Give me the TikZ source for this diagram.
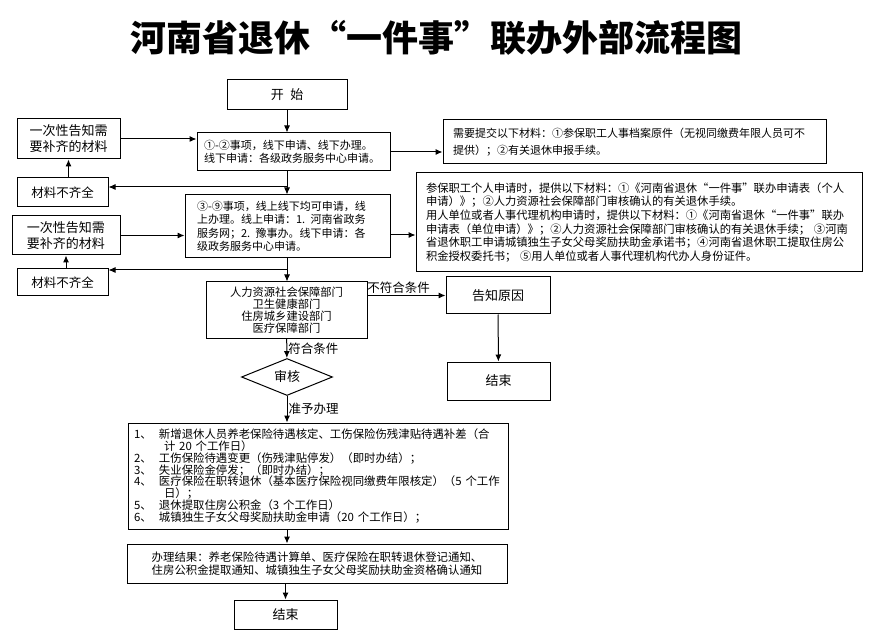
\documentclass[tikz,border=0pt]{standalone}
\usepackage{fontspec}
\setmainfont{Noto Sans CJK SC}
\usetikzlibrary{arrows}
\usetikzlibrary{arrows.meta}
\usetikzlibrary{shapes}
\usetikzlibrary{shapes.geometric}

\begin{document}
\begin{tikzpicture}[>={Latex[length=7pt,width=6pt]}, x=1pt, y=-1pt, line width=1pt,
    box/.style={draw, align=center, inner sep=2pt, font=\fontsize{13pt}{16pt}\selectfont},
    note/.style={draw, align=left, inner ysep=2pt, font=\fontsize{11pt}{13.5pt}\selectfont},
    lbl/.style={inner sep=1pt, font=\fontsize{12.5pt}{14pt}\selectfont}]
      \path[use as bounding box] (0,0) rectangle (870,636);

      % title
      \node[font=\fontsize{36pt}{40pt}\selectfont\bfseries] (title) at (436,38) {河南省退休“一件事”联办外部流程图};

      % left column
      \node[box, minimum width=120pt, minimum height=30pt] (start) at (287,95) {开\hspace{0.5em}始};
      \node[note, inner xsep=7pt, text width=179pt, minimum height=38pt] (step12) at (293.5,152)
        {①-②事项，线下申请、线下办理。\\线下申请：各级政务服务中心申请。};
      \node[note, inner xsep=12pt, text width=181pt, minimum height=63pt] (step39) at (287.5,226.5)
        {③-⑨事项，线上线下均可申请，线\\上办理。线上申请：1. 河南省政务\\服务网；2. 豫事办。线下申请：各\\级政务服务中心申请。};

      \node[box, minimum width=103pt, minimum height=40pt] (tell1) at (68.5,139) {一次性告知需\\要补齐的材料};
      \node[box, font=\fontsize{12.5pt}{15pt}\selectfont, minimum width=91pt, minimum height=29pt] (nq1) at (62.5,192.5) {材料不齐全};
      \node[box, minimum width=108pt, minimum height=39pt] (tell2) at (66,235.5) {一次性告知需\\要补齐的材料};
      \node[box, font=\fontsize{12.5pt}{15pt}\selectfont, minimum width=91pt, minimum height=27pt] (nq2) at (62.5,282.5) {材料不齐全};

      % materials
      \node[note, inner xsep=10pt, text width=363pt, minimum height=44pt, font=\fontsize{11pt}{17pt}\selectfont] (docs1) at (634.5,142)
        {需要提交以下材料：①参保职工人事档案原件（无视同缴费年限人员可不\\提供）；②有关退休申报手续。};
      \node[note, inner xsep=10pt, text width=426pt, minimum height=99pt, font=\fontsize{11.3pt}{13.7pt}\selectfont] (docs2) at (639,222.5)
        {参保职工个人申请时，提供以下材料：①《河南省退休“一件事”联办申请表（个人\\
         申请）》；②人力资源社会保障部门审核确认的有关退休手续。\\
         用人单位或者人事代理机构申请时，提供以下材料：①《河南省退休“一件事”联办\\
         申请表（单位申请）》；②人力资源社会保障部门审核确认的有关退休手续； ③河南\\
         省退休职工申请城镇独生子女父母奖励扶助金承诺书；④河南省退休职工提取住房公\\
         积金授权委托书； ⑤用人单位或者人事代理机构代办人身份证件。};

      % departments and check
      \node[box, font=\fontsize{11.3pt}{11.8pt}\selectfont, minimum width=161pt, minimum height=56pt] (dept) at (286.5,310)
        {人力资源社会保障部门\\卫生健康部门\\住房城乡建设部门\\医疗保障部门};
      \node[box, minimum width=104pt, minimum height=37pt] (why) at (498,295.5) {告知原因};
      \node[box, minimum width=103pt, minimum height=38pt] (end1) at (498.5,381) {结束};
      \node[draw, diamond, aspect=2.46, minimum width=91pt, minimum height=37pt, inner sep=0pt,
        font=\fontsize{13pt}{15pt}\selectfont] (review) at (287,377) {审核};

      % items and result
      \node[note, inner xsep=6pt, text width=368pt, minimum height=106pt, font=\fontsize{11.4pt}{11.8pt}\selectfont] (items) at (318,476)
        {\makebox[25pt][l]{1、}新增退休人员养老保险待遇核定、工伤保险伤残津贴待遇补差（合\\
         \hspace*{30pt}计 20 个工作日）\\
         \makebox[25pt][l]{2、}工伤保险待遇变更（伤残津贴停发）（即时办结）；\\
         \makebox[25pt][l]{3、}失业保险金停发；（即时办结）；\\
         \makebox[25pt][l]{4、}医疗保险在职转退休（基本医疗保险视同缴费年限核定）（5~个工作\\
         \hspace*{30pt}日）；\\
         \makebox[25pt][l]{5、}退休提取住房公积金（3 个工作日）\\
         \makebox[25pt][l]{6、}城镇独生子女父母奖励扶助金申请（20 个工作日）；};
      \node[box, font=\fontsize{11.4pt}{12.5pt}\selectfont, minimum width=380pt, minimum height=39pt] (result) at (317,563.5)
        {办理结果：养老保险待遇计算单、医疗保险在职转退休登记通知、\\住房公积金提取通知、城镇独生子女父母奖励扶助金资格确认通知};
      \node[box, minimum width=103pt, minimum height=29pt] (end2) at (285.5,614.5) {结束};

      % arrows
      \coordinate (j1) at (287,187);
      \coordinate (j2) at (287,270);
      \draw[->] (start) -- (start |- step12.north);
      \draw[->] (step12.south -| start) -- (step39.north -| start);
      \draw[->] (j1) -- (j1 -| nq1.east);
      \draw[->] (tell1.south |- nq1.north) -- (tell1.south);
      \draw[->] (tell1.east) -- (tell1.east -| step12.west);
      \draw[->] (step12.east) -- (step12.east -| docs1.west);

      \draw[->] (step39.south -| start) -- (dept.north -| start);
      \draw[->] (j2) -- (j2 -| nq2.east);
      \draw[->] (tell2.south |- nq2.north) -- (tell2.south);
      \draw[->] (tell2.east) -- (tell2.east -| step39.west);
      \draw[->] ([yshift=-8.5pt]step39.east) -- ([yshift=-8.5pt]step39.east -| docs2.west);

      \draw[->] (dept.east |- why) -- node[above, lbl, pos=0.4] {不符合条件} (why.west);
      \draw[->] (why) -- (end1);
      \draw[->] (dept) -- node[right, lbl] {符合条件} (review);
      \draw[->] (review) -- node[right, lbl] {准予办理} (review.south |- items.north);
      \draw[->] (items.south -| review) -- (result.north -| review);
      \draw[->] (result.south -| end2) -- (end2);
    \end{tikzpicture}
\end{document}
